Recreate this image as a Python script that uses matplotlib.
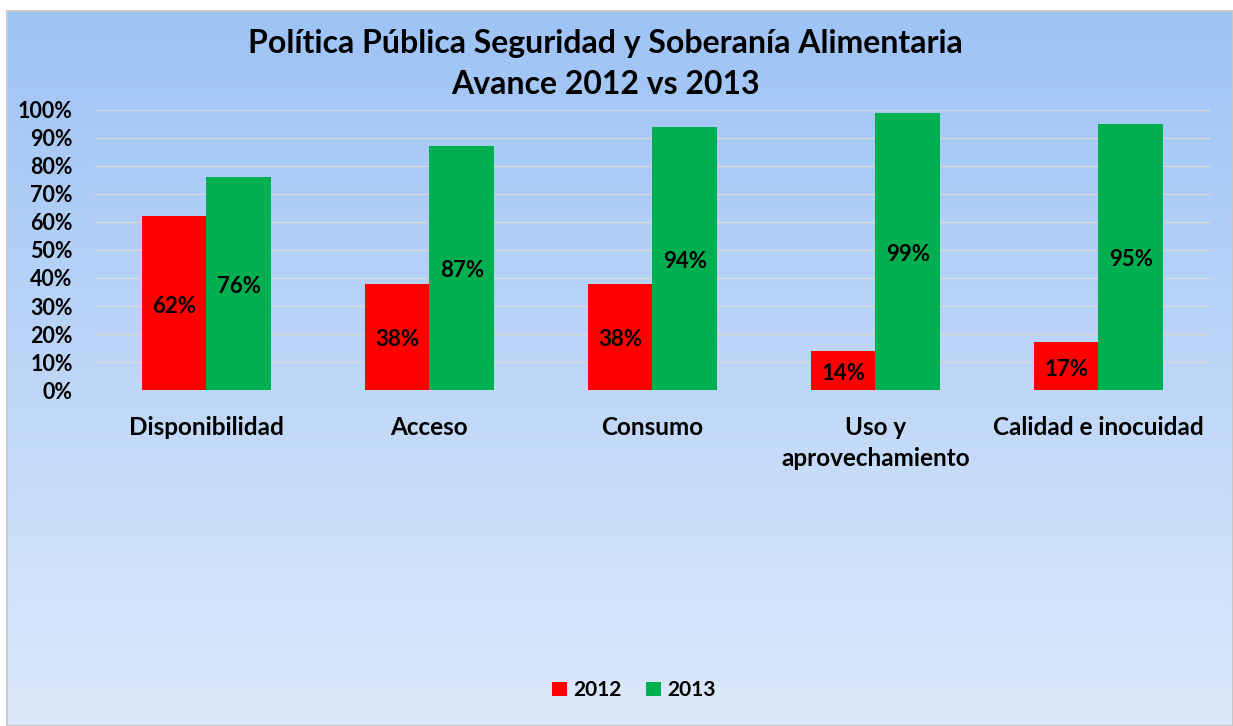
import numpy as np
import matplotlib.pyplot as plt
from matplotlib.patches import Rectangle

# Datos
categorias = ['Disponibilidad', 'Acceso', 'Consumo', 'Uso y\naprovechamiento', 'Calidad e inocuidad']
avance_2012 = [62, 38, 38, 14, 17]
avance_2013 = [76, 87, 94, 99, 95]

plt.rcParams['font.family'] = ['Lato', 'DejaVu Sans']
plt.rcParams['font.weight'] = 'bold'

fig = plt.figure(figsize=(12.33, 7.26), dpi=100)

# fondo con degradado
bg = fig.add_axes([0, 0, 1, 1], zorder=-1)
grad = np.linspace(0, 1, 256).reshape(-1, 1)
top = np.array([157, 195, 245]) / 255
bot = np.array([221, 233, 250]) / 255
img = top + (bot - top) * grad[:, :, None]
x0, y0 = 7 / 1233, 1 - 11 / 726
bg.imshow(img, extent=[x0, 1, 0, y0], aspect='auto', origin='upper')
bg.add_patch(Rectangle((x0, 0), 1 - x0, y0, fill=False, edgecolor='#c8c8c8', lw=1.5))
bg.set_xlim(0, 1)
bg.set_ylim(0, 1)
bg.axis('off')

ax = fig.add_axes([0.0770, 0.4628, 0.9043, 0.3857])
ax.patch.set_alpha(0)

x = np.arange(len(categorias))
w = 0.29
b1 = ax.bar(x - w / 2, avance_2012, w, color='#ff0000', label='2012', zorder=3)
b2 = ax.bar(x + w / 2, avance_2013, w, color='#00b050', label='2013', zorder=3)

for bars, vals in [(b1, avance_2012), (b2, avance_2013)]:
    for r, v in zip(bars, vals):
        ax.text(r.get_x() + r.get_width() / 2, v / 2 - 1, f'{v}%', ha='center', va='center',
                fontsize=16, fontweight='bold', color='black', zorder=4)

ax.set_xlim(-0.5, len(categorias) - 0.5)
ax.set_ylim(0, 100)
ax.set_yticks(range(0, 101, 10))
ax.set_yticklabels([f'{t}%' for t in range(0, 101, 10)], fontsize=15.5, fontweight='bold')
ax.set_xticks(x)
ax.set_xticklabels(categorias, fontsize=17.5, fontweight='bold', linespacing=1.4)
ax.tick_params(axis='both', length=0)
ax.tick_params(axis='x', pad=19)
ax.tick_params(axis='y', pad=16)
ax.grid(axis='y', color='#d9d9d9', lw=1, zorder=0)
for s in ax.spines.values():
    s.set_visible(False)

fig.text(0.491, 0.912, 'Política Pública Seguridad y Soberanía Alimentaria\nAvance 2012 vs 2013',
         ha='center', va='center', fontsize=23, fontweight='bold', linespacing=1.52)

fig.legend(handles=[b1, b2], loc='center', bbox_to_anchor=(0.514, 0.049), ncol=2, frameon=False,
           fontsize=15, handlelength=0.7, handleheight=0.7, handletextpad=0.3, columnspacing=1.2)

fig.savefig('out.png', dpi=100)
